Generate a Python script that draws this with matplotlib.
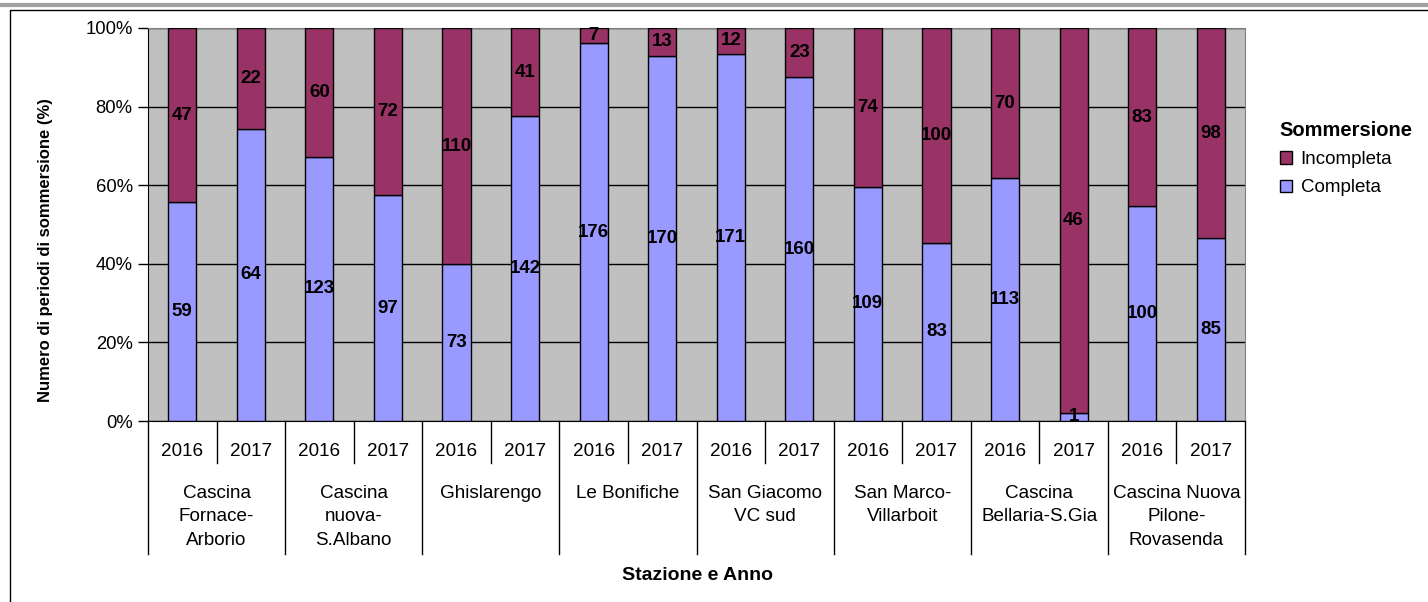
import matplotlib.pyplot as plt
import matplotlib.patches as mpatches
import numpy as np

plt.rcParams['font.family'] = ['Liberation Sans', 'DejaVu Sans']

# Data
stations = ['Cascina\nFornace-\nArborio', 'Cascina\nnuova-\nS.Albano', 'Ghislarengo',
            'Le Bonifiche', 'San Giacomo\nVC sud', 'San Marco-\nVillarboit',
            'Cascina\nBellaria-S.Gia', 'Cascina Nuova\nPilone-\nRovasenda']
years = ['2016', '2017']
completa = [59, 64, 123, 97, 73, 142, 176, 170, 171, 160, 109, 83, 113, 1, 100, 85]
incompleta = [47, 22, 60, 72, 110, 41, 7, 13, 12, 23, 74, 100, 70, 46, 83, 98]

col_comp = '#9999FF'
col_inc = '#993366'

comp = np.array(completa, dtype=float)
inc = np.array(incompleta, dtype=float)
tot = comp + inc
comp_pct = comp / tot * 100
inc_pct = inc / tot * 100
x = np.arange(len(completa))

fig = plt.figure(figsize=(14.28, 6.02), dpi=100)
ax = fig.add_axes([148 / 1428, 1 - 421 / 602, (1245 - 148) / 1428, (421 - 28) / 602])
ax.set_facecolor('#C0C0C0')

ax.bar(x, comp_pct, width=0.41, color=col_comp, edgecolor='black', linewidth=1, zorder=3)
ax.bar(x, inc_pct, width=0.41, bottom=comp_pct, color=col_inc, edgecolor='black', linewidth=1, zorder=3)

# segment labels
for i in range(len(x)):
    ax.text(x[i], comp_pct[i] / 2, str(completa[i]), ha='center', va='center',
            fontsize=13.5, fontweight='bold', zorder=4)
    ax.text(x[i], comp_pct[i] + inc_pct[i] / 2, str(incompleta[i]), ha='center', va='center',
            fontsize=13.5, fontweight='bold', zorder=4)

ax.set_xlim(-0.5, len(x) - 0.5)
ax.set_ylim(0, 100)
ax.set_yticks([0, 20, 40, 60, 80, 100])
ax.set_yticklabels(['0%', '20%', '40%', '60%', '80%', '100%'], fontsize=13.3)
ax.tick_params(axis='y', direction='out', length=7, width=1, pad=4)
ax.set_xticks([])
ax.yaxis.grid(True, color='black', linewidth=1)
ax.set_axisbelow(True)
for s in ['top', 'right']:
    ax.spines[s].set_color('#808080')
ax.spines['left'].set_color('black')
ax.spines['bottom'].set_color('black')

# multi-level x labels
tr = ax.get_xaxis_transform()
for i in range(len(x)):
    ax.text(x[i], -0.078, years[i % 2], ha='center', va='center', fontsize=13.6, transform=tr)
for k in range(len(stations) + 1):
    xb = -0.5 + 2 * k
    ax.plot([xb, xb], [0, -0.338], color='black', linewidth=1, transform=tr, clip_on=False)
for k in range(len(stations)):
    xs = 0.5 + 2 * k
    ax.plot([xs, xs], [0, -0.107], color='black', linewidth=1, transform=tr, clip_on=False)
    ax.text(2 * k + 0.5, -0.162, stations[k], ha='center', va='top', fontsize=13.6,
            linespacing=1.52, transform=tr)

fig.text(697 / 1428, 1 - 576 / 602, 'Stazione e Anno', ha='center', va='center',
         fontsize=14, fontweight='bold')
fig.text(46 / 1428, 1 - 250 / 602, 'Numero di periodi di sommersione (%)', ha='center',
         va='center', rotation=90, fontsize=12, fontweight='bold')

# legend
handles = [mpatches.Patch(facecolor=col_inc, edgecolor='black', label='Incompleta'),
           mpatches.Patch(facecolor=col_comp, edgecolor='black', label='Completa')]
leg = fig.legend(handles=handles, title='Sommersione', loc='upper left',
                 bbox_to_anchor=(1263 / 1428, 1 - 104 / 602), frameon=False,
                 fontsize=13.5, handlelength=0.65, handleheight=0.65, handletextpad=0.45,
                 labelspacing=0.6)
leg.get_title().set_fontweight('bold')
leg.get_title().set_fontsize(14.5)
leg._legend_box.align = 'left'

# chart frame
fig.add_artist(plt.Line2D([0, 1], [1 - 5 / 602, 1 - 5 / 602], color='#A0A0A0', linewidth=3,
                          transform=fig.transFigure))
fig.add_artist(plt.Line2D([10 / 1428, 10 / 1428, 1], [0, 1 - 10 / 602, 1 - 10 / 602],
                          color='black', linewidth=1, transform=fig.transFigure))

fig.savefig('out.png', dpi=100)
